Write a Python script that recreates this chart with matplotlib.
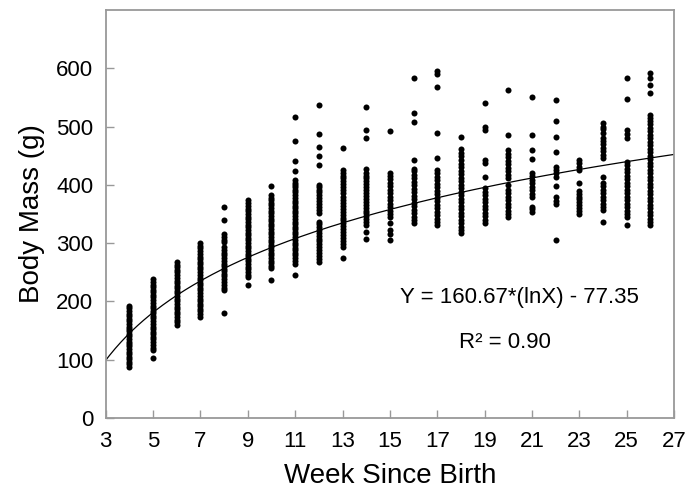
import matplotlib
matplotlib.use("Agg")
import matplotlib.pyplot as plt
import numpy as np

plt.rcParams["font.family"] = ["Liberation Sans", "DejaVu Sans"]

# body mass (g) observed in each week since birth
weeks = [4, 5, 6, 7, 8, 9, 10, 11, 12, 13, 14, 15, 16, 17, 18, 19, 20, 21, 22, 23, 24, 25, 26]
body_mass = [
    [88, 92, 96, 101, 105, 110, 114, 118, 123, 127, 131, 136, 140, 144, 149, 153, 157, 162, 166, 170, 175, 179, 183, 188, 192],
    [103, 117, 121, 126, 130, 135, 139, 144, 148, 153, 157, 162, 166, 171, 175, 180, 184, 189, 193, 198, 202, 207, 211, 216, 220, 225, 229, 234, 238],
    [160, 164, 169, 173, 178, 182, 187, 191, 196, 200, 205, 209, 214, 218, 223, 227, 232, 236, 241, 245, 250, 254, 259, 263, 268],
    [174, 178, 183, 187, 192, 196, 201, 205, 210, 214, 219, 223, 228, 232, 237, 241, 246, 250, 255, 259, 264, 268, 273, 277, 282, 286, 291, 295, 300],
    [181, 220, 224, 229, 234, 238, 243, 247, 252, 256, 261, 265, 270, 275, 279, 284, 288, 293, 302, 306, 311, 316, 340, 362],
    [229, 242, 246, 251, 255, 260, 264, 269, 273, 278, 282, 287, 291, 296, 300, 305, 309, 314, 318, 323, 327, 332, 336, 341, 345, 350, 355, 359, 364, 369, 374],
    [237, 257, 261, 266, 270, 275, 279, 284, 288, 293, 297, 302, 306, 311, 315, 320, 324, 329, 333, 338, 342, 347, 351, 356, 360, 365, 369, 374, 378, 382, 398],
    [245, 265, 270, 274, 279, 283, 288, 292, 297, 301, 306, 310, 315, 319, 324, 328, 333, 337, 342, 346, 351, 355, 360, 364, 369, 373, 378, 382, 387, 391, 396, 400, 404, 408, 424, 441, 476, 516],
    [268, 273, 278, 283, 288, 293, 298, 303, 308, 313, 318, 323, 328, 333, 337, 352, 357, 362, 367, 372, 377, 382, 387, 391, 396, 400, 434, 449, 465, 488, 537],
    [274, 294, 299, 304, 309, 314, 319, 324, 329, 334, 339, 344, 349, 354, 359, 364, 369, 374, 379, 386, 391, 396, 401, 406, 411, 416, 421, 425, 464],
    [308, 320, 331, 336, 341, 346, 351, 356, 361, 366, 371, 376, 381, 386, 391, 396, 401, 406, 411, 416, 421, 428, 481, 494, 533],
    [305, 315, 322, 334, 345, 350, 356, 362, 368, 374, 380, 386, 392, 398, 404, 410, 415, 420, 492],
    [334, 339, 345, 351, 357, 363, 369, 375, 381, 387, 393, 399, 405, 411, 417, 423, 428, 443, 508, 524, 584],
    [331, 336, 342, 348, 354, 360, 366, 372, 378, 384, 390, 396, 402, 408, 414, 420, 425, 446, 489, 568, 590, 595],
    [317, 322, 328, 334, 340, 346, 352, 358, 364, 370, 376, 382, 388, 394, 400, 406, 412, 418, 424, 430, 436, 442, 449, 455, 461, 482],
    [334, 340, 346, 352, 358, 364, 370, 376, 382, 388, 394, 413, 437, 443, 494, 499, 540],
    [345, 350, 356, 362, 368, 374, 380, 386, 392, 400, 411, 417, 423, 429, 435, 441, 447, 453, 460, 485, 563],
    [353, 358, 362, 379, 385, 391, 397, 403, 409, 415, 420, 444, 460, 485, 550],
    [305, 367, 373, 380, 398, 414, 420, 426, 431, 457, 482, 509, 545],
    [350, 355, 360, 365, 370, 375, 380, 385, 390, 404, 425, 431, 437, 443],
    [337, 357, 362, 368, 374, 380, 386, 392, 398, 404, 413, 446, 452, 458, 464, 470, 476, 480, 489, 495, 500, 506],
    [331, 345, 350, 356, 362, 368, 374, 380, 386, 392, 398, 404, 410, 416, 422, 428, 434, 440, 480, 487, 494, 548, 583],
    [331, 336, 342, 348, 354, 360, 366, 372, 378, 384, 390, 396, 402, 408, 414, 420, 426, 432, 438, 444, 450, 456, 462, 468, 474, 480, 486, 492, 498, 504, 510, 515, 520, 557, 571, 583, 591],
]

# log fit reported on the figure
fit_a, fit_b = 160.67, -77.35
x_ticks = [3, 5, 7, 9, 11, 13, 15, 17, 19, 21, 23, 25, 27]
y_ticks = [0, 100, 200, 300, 400, 500, 600]

fig = plt.figure(figsize=(7, 4.96), dpi=100)
ax = fig.add_axes([0.151, 0.157, 0.812, 0.823])

xs = np.concatenate([[w] * len(m) for w, m in zip(weeks, body_mass)])
ys = np.concatenate(body_mass)
ax.scatter(xs, ys, s=19, color="black", linewidths=0, zorder=3)

xf = np.linspace(3, 27, 300)
ax.plot(xf, fit_a * np.log(xf) + fit_b, color="black", linewidth=0.9, zorder=2)

ax.set_xlim(3, 27)
ax.set_ylim(0, 700)
ax.set_xticks(x_ticks)
ax.set_yticks(y_ticks)
ax.tick_params(direction="in", length=6, width=1, color="#999999", labelsize=16)
ax.tick_params(axis="y", pad=9)
ax.tick_params(axis="x", pad=9)
for sp in ax.spines.values():
    sp.set_color("#999999")
    sp.set_linewidth(1.3)

ax.set_xlabel("Week Since Birth", fontsize=20, labelpad=8)
ax.set_ylabel("Body Mass (g)", fontsize=20, labelpad=8)

ax.text(20.45, 206, "Y = 160.67*(lnX) - 77.35", fontsize=16, ha="center", va="center")
ax.text(19.86, 129, "R² = 0.90", fontsize=16, ha="center", va="center")

fig.savefig("out.png", dpi=100)
